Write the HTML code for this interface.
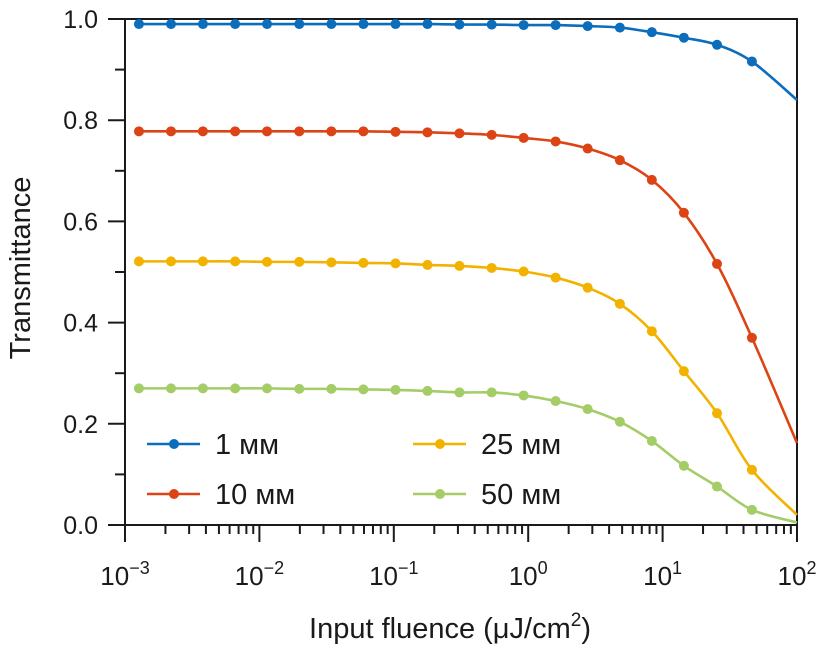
<!DOCTYPE html>
<html><head><meta charset="utf-8"><style>
html,body{margin:0;padding:0;background:#fff;}
svg{display:block;font-family:"Liberation Sans",sans-serif;}
</style></head><body>
<svg id="chart" width="827" height="650" viewBox="0 0 827 650">
<g id="axes"></g>
<g id="series"></g>
<g id="legend"></g>
</svg>
<script>
const fluence=[0.00127,0.0022,0.0038,0.0066,0.0114,0.0198,0.0343,0.0594,0.103,0.178,0.308,0.535,0.925,1.60,2.77,4.81,8.32,14.4,25.4,46.2];
const seriesNames=["1 мм","10 мм","25 мм","50 мм"];
const blueVals=[0.99,0.99,0.99,0.99,0.99,0.99,0.99,0.99,0.99,0.99,0.989,0.989,0.988,0.988,0.986,0.983,0.974,0.963,0.949,0.916];
const redVals=[0.778,0.778,0.778,0.778,0.778,0.778,0.778,0.778,0.777,0.776,0.774,0.771,0.765,0.758,0.744,0.721,0.682,0.617,0.516,0.37];
const yellowVals=[0.521,0.521,0.521,0.521,0.520,0.520,0.519,0.518,0.517,0.514,0.512,0.508,0.501,0.489,0.469,0.437,0.383,0.304,0.221,0.109];
const greenVals=[0.270,0.270,0.270,0.270,0.270,0.269,0.269,0.268,0.267,0.265,0.262,0.262,0.256,0.245,0.229,0.204,0.166,0.117,0.076,0.030];
const endFluence=100;
const endVals=[0.84,0.162,0.02,0.005];
const yTicks=[0,0.2,0.4,0.6,0.8,1.0];
const yTickLabels=["0.0","0.2","0.4","0.6","0.8","1.0"];
const xDecades=[-3,-2,-1,0,1,2];

const NS="http://www.w3.org/2000/svg";
const X0=125,X1=797,Y0=525,Y1=19;
function xs(v){return X0+(Math.log10(v)+3)/5*(X1-X0);}
function ys(v){return Y0-v*(Y0-Y1);}
function mk(tag,attrs,parent){const e=document.createElementNS(NS,tag);for(const k in attrs)e.setAttribute(k,attrs[k]);parent.appendChild(e);return e;}
const axes=document.getElementById('axes');
const C="#1a1a1a";
let fr=mk('rect',{x:X0,y:Y1,width:X1-X0,height:Y0-Y1,fill:'none',stroke:C,'stroke-width':2},axes);


for(let i=0;i<yTicks.length;i++){
  const y=ys(yTicks[i]);
  let t=mk('line',{x1:X0-17,x2:X0,y1:y,y2:y,stroke:C,'stroke-width':2},axes);
  
  
  let l=mk('text',{x:98,y:y+9,'text-anchor':'end','font-size':25,fill:C},axes);
  l.textContent=yTickLabels[i];
  
  
  if(i<yTicks.length-1){
    const ym=ys((yTicks[i]+yTicks[i+1])/2);
    let m=mk('line',{x1:X0-10,x2:X0,y1:ym,y2:ym,stroke:C,'stroke-width':2},axes);
    
    
  }
}
for(let i=0;i<xDecades.length;i++){
  const d=xDecades[i];
  const x=xs(Math.pow(10,d));
  let t=mk('line',{x1:x,x2:x,y1:Y0,y2:Y0+17,stroke:C,'stroke-width':2},axes);
  
  
  let l=mk('text',{x:x,y:585,'text-anchor':'middle','font-size':26,fill:C},axes);
  
  
  l.appendChild(document.createTextNode('10'));
  let s=mk('tspan',{dy:-11,'font-size':18},l);s.textContent=(d<0?'\u2212':'')+Math.abs(d);
  if(i<xDecades.length-1){
    for(let k=2;k<=9;k++){
      const xm=xs(k*Math.pow(10,d));
      let m=mk('line',{x1:xm,x2:xm,y1:Y0,y2:Y0+9,stroke:C,'stroke-width':2},axes);
      
      
    }
  }
}
let xt=mk('text',{x:450,y:638,'text-anchor':'middle','font-size':29,fill:C},axes);


xt.appendChild(document.createTextNode('Input fluence (μJ/cm'));
let sp=mk('tspan',{dy:-12,'font-size':19},xt);sp.textContent='2';
let sp2=mk('tspan',{dy:12},xt);sp2.textContent=')';
let yt=mk('text',{x:0,y:0,'text-anchor':'middle','font-size':29,fill:C,transform:'translate(30,268) rotate(-90)'},axes);
yt.textContent='Transmittance';



const colors=["#0b6dbb","#dc4416","#f2b200","#a4cd68"];
const allVals=[blueVals,redVals,yellowVals,greenVals];
const sg=document.getElementById('series');
function smoothPath(pts){
  let d='M'+pts[0][0]+','+pts[0][1];
  for(let i=0;i<pts.length-1;i++){
    const p0=pts[i-1]||pts[i],p1=pts[i],p2=pts[i+1],p3=pts[i+2]||p2;
    const c1=[p1[0]+(p2[0]-p0[0])/6,p1[1]+(p2[1]-p0[1])/6];
    const c2=[p2[0]-(p3[0]-p1[0])/6,p2[1]-(p3[1]-p1[1])/6];
    d+=' C'+c1[0]+','+c1[1]+' '+c2[0]+','+c2[1]+' '+p2[0]+','+p2[1];
  }
  return d;
}
for(let s=0;s<4;s++){
  const vals=allVals[s];
  const pts=fluence.map((f,i)=>[xs(f),ys(vals[i])]);
  pts.push([xs(endFluence),ys(endVals[s])]);
  let p=mk('path',{d:smoothPath(pts),fill:'none',stroke:colors[s],'stroke-width':2.6},sg);
  
  
  for(let i=0;i<fluence.length;i++){
    let c=mk('circle',{cx:xs(fluence[i]),cy:ys(vals[i]),r:5,fill:colors[s]},sg);
    
    
  }
}
const lg=document.getElementById('legend');
const legPos=[[147,444],[147,494],[413,444],[413,494]];
for(let s=0;s<4;s++){
  const [lx,ly]=legPos[s];
  let g=mk('g',{},lg);
  
  
  mk('line',{x1:lx,x2:lx+53,y1:ly,y2:ly,stroke:colors[s],'stroke-width':2.6},g);
  mk('circle',{cx:lx+27,cy:ly,r:5,fill:colors[s]},g);
  let t=mk('text',{x:lx+68,y:ly+10,'font-size':29,fill:C},g);
  t.textContent=seriesNames[s];
}
</script>
</body></html>
